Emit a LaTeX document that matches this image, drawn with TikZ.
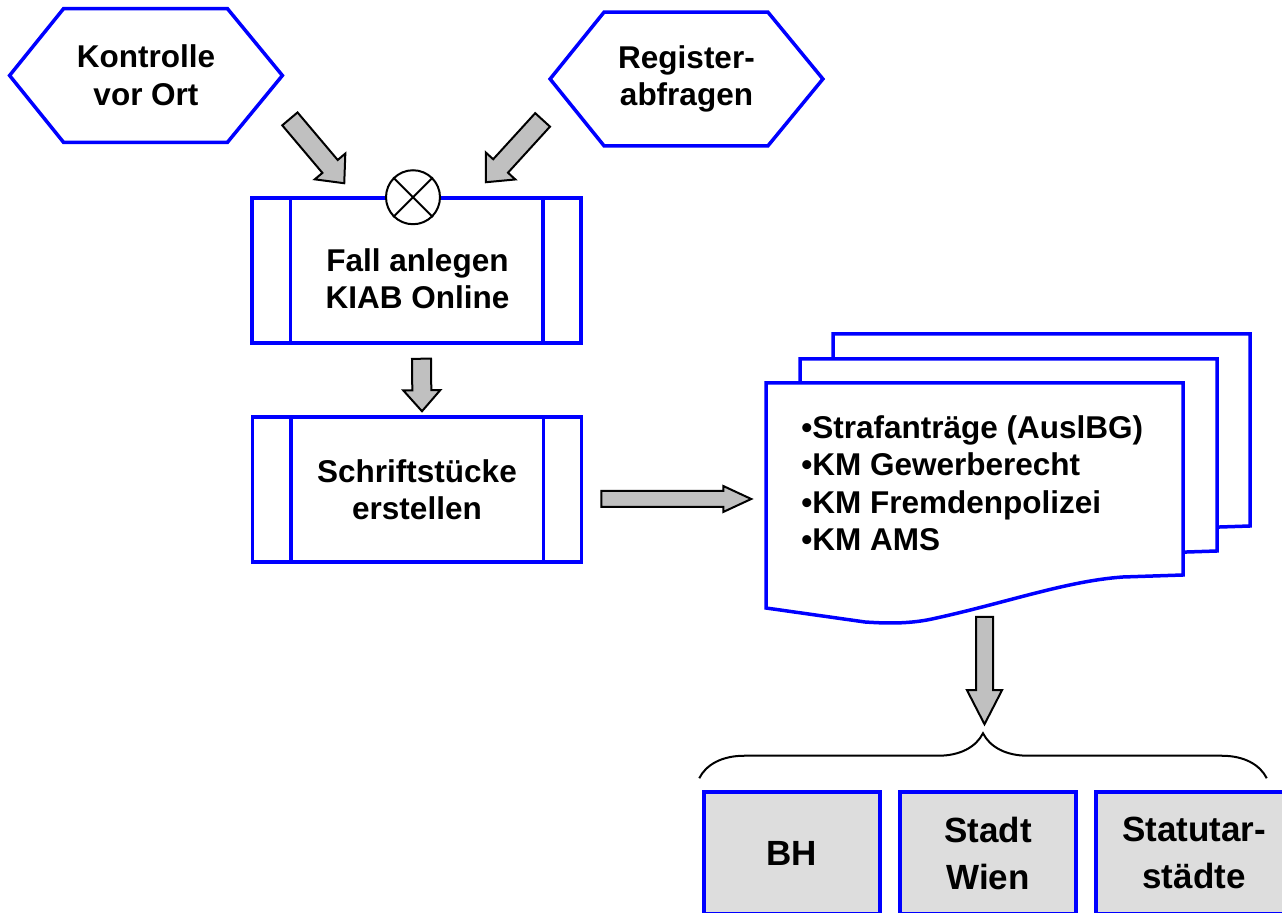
\documentclass[tikz,border=0pt]{standalone}
\usepackage{fontspec}
\setmainfont{Liberation Sans}
\usetikzlibrary{shapes,arrows,positioning,calc,decorations.pathreplacing}

\definecolor{arrowgray}{HTML}{C0C0C0}
\definecolor{boxgray}{HTML}{DDDDDD}

% block arrow: #1 from, #2 tip, #3 half shaft, #4 half head, #5 head length
\newcommand{\blockarrow}[5]{%
  \coordinate (ba-h) at ($(#2)!#5!(#1)$);
  \draw[arrowfill] ($(#1)!#3!90:(#2)$) -- ($(ba-h)!#3!90:(#2)$) -- ($(ba-h)!#4!90:(#2)$)
    -- (#2) -- ($(ba-h)!#4!-90:(#2)$) -- ($(ba-h)!#3!-90:(#2)$) -- ($(#1)!#3!-90:(#2)$) -- cycle;}

\begin{document}
\begin{tikzpicture}[x=0.5pt,y=-0.5pt,
    blueline/.style={draw=blue,line width=1.75pt},
    txt/.style={font=\bfseries\fontsize{15.75}{18.75}\selectfont,align=center},
    hexnode/.style={txt,minimum width=136pt,minimum height=66.5pt,inner sep=0pt},
    procnode/.style={txt,blueline,fill=white,minimum width=164.5pt,minimum height=72.5pt,inner sep=0pt},
    unitnode/.style={blueline,fill=boxgray,font=\bfseries\fontsize{17.5}{23.5}\selectfont,align=center,minimum width=88pt,minimum height=61pt,inner sep=0pt},
    arrowfill/.style={draw=black,line width=1pt,fill=arrowgray}]
    \useasboundingbox (0,0) rectangle (1282,913);
    \clip (0,0) rectangle (1282,913);

    % Events
    \node[hexnode] (kontrolle) at (146,75.5) {Kontrolle\\vor Ort};
    \node[hexnode] (register) at (686.5,79) {Register-\\abfragen};
    \foreach \n in {kontrolle,register}
        \draw[blueline] (\n.west) -- ($(\n.north west)+(54,0)$) -- ($(\n.north east)+(-55,0)$) -- (\n.east)
            -- ($(\n.south east)+(-55,0)$) -- ($(\n.south west)+(54,0)$) -- cycle;

    % Functions
    \node[procnode] (fall) at (416.5,270.5) {};
    \node[txt] (falltext) at ($(fall.center)+(1,8)$) {Fall anlegen\\KIAB Online};
    \node[procnode] (schrift) at (417,489.5) {Schriftstücke\\erstellen};
    \foreach \n in {fall,schrift}
        \draw[blueline] ($(\n.north west)+(40,0)$) -- ($(\n.south west)+(40,0)$)
            ($(\n.north east)+(-40,0)$) -- ($(\n.south east)+(-40,0)$);

    % XOR connector
    \node[circle,draw,line width=1pt,fill=white,minimum size=27pt,inner sep=0pt] (join) at ($(fall.north)+(-3.5,1)$) {};
    \draw[line width=1pt] (join.north west) -- (join.south east) (join.north east) -- (join.south west);

    % Documents
    \foreach \dx/\dy in {833/334,800/359,766/383}
        \draw[blueline,fill=white,shift={(\dx,\dy)}] (0,0) -- (417,0) -- (417,192) -- (357,194)
            .. controls (300,198) and (240,220) .. (166,236) .. controls (140,241.6) and (115,240) .. (99,239)
            -- (0,225) -- cycle;
    \node[txt,align=left,anchor=west,inner sep=0pt] (liste) at (801,483)
        {•Strafanträge (AuslBG)\\•KM Gewerberecht\\•KM Fremdenpolizei\\•KM AMS};

    % Authorities
    \node[unitnode] (bh) at (792,853) {BH};
    \node[unitnode] (wien) at (988,853) {Stadt\\Wien};
    \node[unitnode,minimum width=98pt] (statutar) at (1194,853) {Statutar-\\städte};
    \coordinate (bl) at ($(bh.north west)+(-3,-12)$);
    \coordinate (br) at ($(statutar.north east)+(-27,-12)$);
    \draw[line width=1pt,decorate,decoration={brace,amplitude=22.5pt}] (bl) -- (br);

    % Flow arrows
    \coordinate (k1) at ($(kontrolle.south east)+(7.5,-23.5)$);
    \coordinate (k2) at ($(fall.north west)+(94,-13)$);
    \blockarrow{k1}{k2}{5pt}{10pt}{11pt}
    \coordinate (r1) at ($(register.south west)+(-7.5,-26)$);
    \coordinate (r2) at ($(fall.north east)+(-97,-14)$);
    \blockarrow{r1}{r2}{5pt}{10pt}{11pt}
    \coordinate (f1) at ($(fall.south)+(5,14)$);
    \coordinate (f2) at ($(schrift.north)+(5,-4)$);
    \blockarrow{f1}{f2}{4.75pt}{9.25pt}{10.5pt}
    \coordinate (s1) at ($(schrift.east)+(18,9.5)$);
    \coordinate (s2) at ($(schrift.east)+(168,9.5)$);
    \blockarrow{s1}{s2}{4pt}{6.5pt}{14pt}
    \coordinate (d1) at (984.5,617);
    \coordinate (d2) at ($(bl)!0.5!(br)+(1.5,-54)$);
    \blockarrow{d1}{d2}{4.25pt}{8.75pt}{17pt}
\end{tikzpicture}
\end{document}
